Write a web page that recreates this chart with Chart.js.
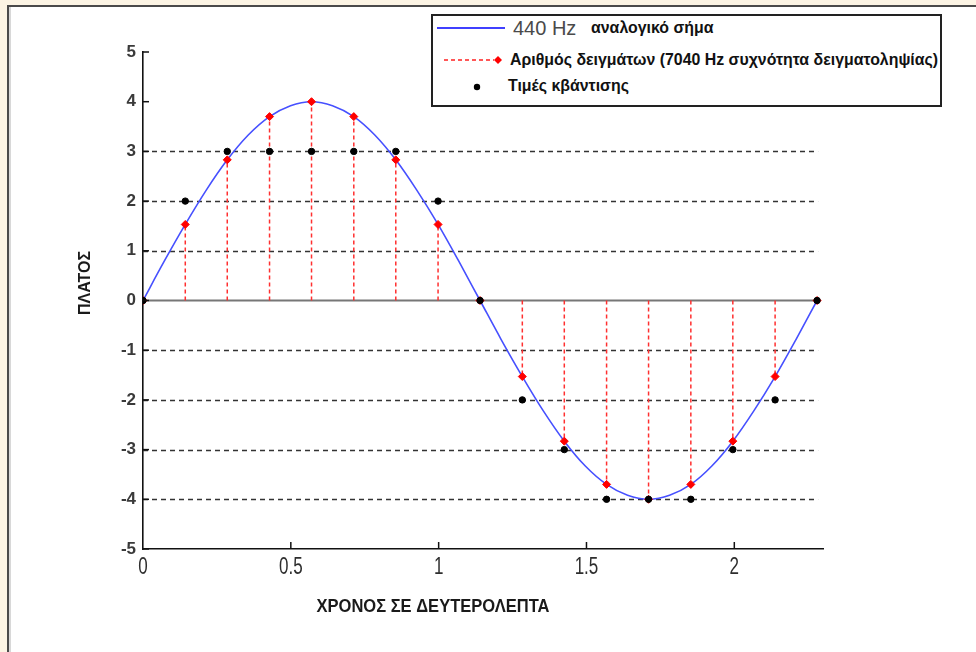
<!DOCTYPE html>
<html><head><meta charset="utf-8">
<script src="https://cdn.jsdelivr.net/npm/chart.js@4.4.1/dist/chart.umd.min.js"></script>
<style>
body{margin:0;background:#fff;}
#wrap{position:relative;width:976px;height:652px;overflow:hidden;background:#fff;}
#topband{position:absolute;left:0;top:0;width:976px;height:5px;background:#fcf4e4;}
#leftband{position:absolute;left:0;top:0;width:7px;height:652px;background:#fcf4e4;}
#topline{position:absolute;left:7px;top:5px;width:969px;height:2px;background:#4a4a4a;}
#leftline{position:absolute;left:7px;top:5px;width:2px;height:647px;background:#4a4a4a;}
#leftshade{position:absolute;left:9px;top:7px;width:2px;height:645px;background:#d8d8d8;}
canvas{position:absolute;left:0;top:0;}
#legend{position:absolute;left:431px;top:14px;width:507px;height:89px;border:2px solid #222;background:#fff;font-family:'Liberation Sans',Arial,sans-serif;color:#111;}
#legend svg{position:absolute;left:0;top:0;}
.lt{position:absolute;white-space:nowrap;font-weight:bold;font-size:15.9px;}
.hz{position:absolute;white-space:nowrap;font-size:20px;color:#4a4a4a;}
</style></head>
<body>
<div id="wrap">
<div id="topband"></div><div id="leftband"></div><div id="topline"></div><div id="leftline"></div><div id="leftshade"></div>
<canvas id="c" width="976" height="652"></canvas>
<div id="legend">
<svg width="507" height="89">
<line x1="4" y1="12" x2="72" y2="12" stroke="#0000ff" stroke-width="1.5"/>
<line x1="11" y1="44" x2="61" y2="44" stroke="#ff2020" stroke-width="1.3" stroke-dasharray="4,3"/>
<polygon points="65,40 69,44 65,48 61,44" fill="#ff0000"/>
<circle cx="44" cy="71" r="3.2" fill="#000"/>
</svg>
<div class="hz" style="left:80px;top:1px;">440 Hz</div>
<div class="lt" style="left:158px;top:3px;">αναλογικό σήμα</div>
<div class="lt" style="left:77px;top:35px;">Αριθμός δειγμάτων (7040 Hz συχνότητα δειγματοληψίας)</div>
<div class="lt" style="left:75px;top:61px;">Τιμές κβάντισης</div>
</div>
</div>
<script>
// ---- data ----
const xTickValues = [0, 0.5, 1, 1.5, 2];
const xTickLabels = ['0', '0.5', '1', '1.5', '2'];
const yTickValues = [-5, -4, -3, -2, -1, 0, 1, 2, 3, 4, 5];
const yTickLabels = ['-5', '-4', '-3', '-2', '-1', '0', '1', '2', '3', '4', '5'];
const quantLevels = [-4, -3, -2, -1, 1, 2, 3];

const analogTimes = [0, 0.071, 0.143, 0.214, 0.285, 0.356, 0.428, 0.499, 0.570, 0.641, 0.713, 0.784, 0.855,
  0.926, 0.998, 1.069, 1.140, 1.211, 1.283, 1.354, 1.425, 1.496, 1.568, 1.639, 1.710, 1.781, 1.853, 1.924,
  1.995, 2.066, 2.138, 2.209, 2.280];
const analogValues = [0, 0.78, 1.53, 2.22, 2.83, 3.33, 3.70, 3.92, 4.00, 3.92, 3.70, 3.33, 2.83,
  2.22, 1.53, 0.78, 0, -0.78, -1.53, -2.22, -2.83, -3.33, -3.70, -3.92, -4.00, -3.92, -3.70, -3.33,
  -2.83, -2.22, -1.53, -0.78, 0];

const sampleTimes = [0, 0.143, 0.285, 0.428, 0.570, 0.713, 0.855, 0.998, 1.140, 1.283, 1.425, 1.568,
  1.710, 1.853, 1.995, 2.138, 2.280];
const sampleValues = [0, 1.53, 2.83, 3.70, 4.00, 3.70, 2.83, 1.53, 0, -1.53, -2.83, -3.70, -4.00,
  -3.70, -2.83, -1.53, 0];
const quantValues = [0, 2, 3, 3, 3, 3, 3, 2, 0, -2, -3, -4, -4, -4, -3, -2, 0];

const xTitle = 'ΧΡΟΝΟΣ ΣΕ ΔΕΥΤΕΡΟΛΕΠΤΑ';
const yTitle = 'ΠΛΑΤΟΣ';

// ---- build datasets ----
const analogPts = analogTimes.map((t, i) => ({x: t, y: analogValues[i]}));
const stemPts = [];
sampleTimes.forEach((t, i) => { stemPts.push({x: t, y: 0}, {x: t, y: sampleValues[i]}, {x: t, y: null}); });
const samplePts = sampleTimes.map((t, i) => ({x: t, y: sampleValues[i]}));
const quantPts = sampleTimes.map((t, i) => ({x: t, y: quantValues[i]}));

const sans = "'Liberation Sans',Arial,sans-serif";

function narrowText(ctx, text, cx, cy, font, sx) {
  ctx.save();
  ctx.translate(cx, cy);
  ctx.scale(sx, 1);
  ctx.font = font;
  ctx.textAlign = 'center';
  ctx.textBaseline = 'middle';
  ctx.fillText(text, 0, 0);
  ctx.restore();
}

const decor = {
  id: 'decor',
  beforeDatasetsDraw(chart) {
    const {ctx, chartArea: ca, scales: {x, y}} = chart;
    const xEnd = x.getPixelForValue(sampleTimes[sampleTimes.length - 1]) + 1;
    ctx.save();
    ctx.strokeStyle = '#333';
    ctx.lineWidth = 1.4;
    ctx.setLineDash([5, 4]);
    quantLevels.forEach(v => {
      const py = Math.round(y.getPixelForValue(v)) + 0.5;
      ctx.beginPath(); ctx.moveTo(ca.left, py); ctx.lineTo(xEnd, py); ctx.stroke();
    });
    ctx.setLineDash([]);
    ctx.strokeStyle = '#777';
    ctx.lineWidth = 2;
    const p0 = y.getPixelForValue(0);
    ctx.beginPath(); ctx.moveTo(ca.left, p0); ctx.lineTo(xEnd, p0); ctx.stroke();
    ctx.restore();
  },
  afterDraw(chart) {
    const {ctx, chartArea: ca, scales: {x, y}} = chart;
    ctx.save();
    ctx.strokeStyle = '#111';
    ctx.lineWidth = 1.5;
    yTickValues.forEach(v => {
      const py = y.getPixelForValue(v);
      ctx.beginPath(); ctx.moveTo(ca.left, py); ctx.lineTo(ca.left + 6, py); ctx.stroke();
    });
    xTickValues.forEach(v => {
      if (v === 0) return;
      const px = x.getPixelForValue(v);
      ctx.beginPath(); ctx.moveTo(px, ca.bottom); ctx.lineTo(px, ca.bottom - 7); ctx.stroke();
    });
    // x tick labels (narrow face)
    ctx.fillStyle = '#2e2e2e';
    xTickValues.forEach((v, i) => {
      narrowText(ctx, xTickLabels[i], x.getPixelForValue(v), ca.bottom + 19, '23px ' + sans, 0.74);
    });
    // axis titles
    ctx.fillStyle = '#1a1a1a';
    narrowText(ctx, xTitle, 433, 607, 'bold 19px ' + sans, 0.87);
    ctx.translate(86, 283);
    ctx.rotate(-Math.PI / 2);
    ctx.font = 'bold 16px ' + sans;
    ctx.textAlign = 'center';
    ctx.textBaseline = 'middle';
    ctx.fillText(yTitle, 0, 0);
    ctx.restore();
  }
};

new Chart(document.getElementById('c'), {
  type: 'scatter',
  data: {
    datasets: [
      {label: 'analog', data: analogPts, showLine: true, borderColor: '#4650ff', borderWidth: 1.6,
        pointRadius: 0, cubicInterpolationMode: 'monotone', order: 3},
      {label: 'stems', data: stemPts, showLine: true, spanGaps: false, borderColor: '#ff3030',
        borderWidth: 1.5, borderDash: [4, 3], pointRadius: 0, order: 4},
      {label: 'samples', data: samplePts, showLine: false, pointStyle: 'rectRot', pointRadius: 4,
        backgroundColor: '#ff0000', borderColor: '#ff0000', order: 2},
      {label: 'quant', data: quantPts, showLine: false, pointStyle: 'circle', pointRadius: 3.2,
        backgroundColor: '#000', borderColor: '#000', order: 1}
    ]
  },
  options: {
    responsive: false,
    animation: false,
    layout: {padding: {left: 0, top: 52, right: 153, bottom: 0}},
    plugins: {legend: {display: false}, tooltip: {enabled: false}},
    scales: {
      x: {
        type: 'linear', min: 0, max: 2.3,
        afterBuildTicks: s => { s.ticks = xTickValues.map(v => ({value: v})); },
        afterFit: s => { s.height = 103; },
        ticks: {display: false},
        grid: {display: false, drawTicks: false},
        border: {display: true, color: '#111', width: 1.6}
      },
      y: {
        type: 'linear', min: -5, max: 5,
        afterBuildTicks: s => { s.ticks = yTickValues.map(v => ({value: v})); },
        afterFit: s => { s.width = 143; },
        ticks: {callback: (v, i) => yTickLabels[i], color: '#3a3a3a', padding: 7,
          font: {family: sans, size: 17, weight: 'bold'}, autoSkip: false},
        grid: {display: false, drawTicks: false},
        border: {display: true, color: '#111', width: 1.6}
      }
    }
  },
  plugins: [decor]
});
</script>
</body></html>
